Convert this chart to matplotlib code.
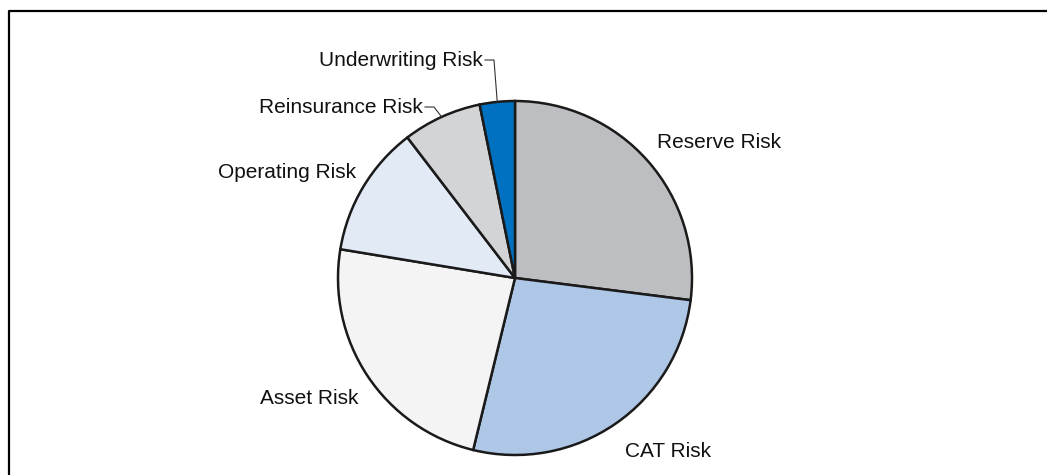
import matplotlib.pyplot as plt
import numpy as np

# risk mix (share of total, %)
categories = ['Reserve Risk', 'CAT Risk', 'Asset Risk', 'Operating Risk',
              'Reinsurance Risk', 'Underwriting Risk']
shares = [27.0, 26.8, 23.8, 12.0, 7.2, 3.2]
colors = ['#BDBEC1', '#AEC7E6', '#F4F4F4', '#E2EAF6', '#D3D4D6', '#0070C0']

W, H = 1047, 475
# label anchors in pixel coords (x, baseline y, alignment)
label_pos = [(657, 148, 'left'), (625, 457, 'left'), (359, 404, 'right'),
             (356, 178, 'right'), (423, 113, 'right'), (483, 66, 'right')]
leader = [False, False, False, False, True, True]

plt.rcParams['font.family'] = ['Liberation Sans', 'DejaVu Sans']

fig = plt.figure(figsize=(W / 100, H / 100), dpi=100)
ax = fig.add_axes([0, 0, 1, 1])
ax.set_xlim(0, W)
ax.set_ylim(0, H)
ax.axis('off')


def py(y):
    return H - y


cx, cy, r = 515, 278, 177
wedges, _ = ax.pie(shares, colors=colors, startangle=90, counterclock=False,
                   center=(cx, py(cy)), radius=r, frame=True,
                   wedgeprops=dict(edgecolor='#1a1a1a', linewidth=1.8))
ax.set_xlim(0, W)
ax.set_ylim(0, H)
ax.axis('off')

for w, name, (tx, ty, ha), lead in zip(wedges, categories, label_pos, leader):
    ax.text(tx, py(ty), name, ha=ha, va='baseline', fontsize=15, color='#111111')
    if lead:
        mid = np.deg2rad((w.theta1 + w.theta2) / 2)
        ex, ey = cx + r * np.cos(mid), py(cy) + r * np.sin(mid)
        ly = py(ty - 6)
        ax.plot([tx + 2, tx + 11, ex], [ly, ly, ey], color='#333333', lw=0.8)

# outer frame (open at right and bottom)
ax.plot([9, 9, W + 5], [-5, py(11), py(11)], color='black', lw=1.6,
        solid_capstyle='projecting')

fig.savefig('out.png', dpi=100)
